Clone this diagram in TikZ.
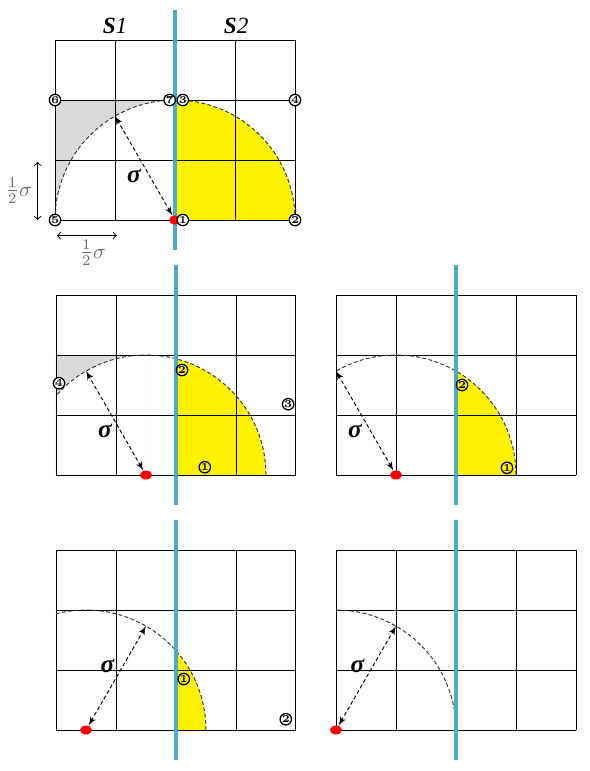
\documentclass[tikz,border=0pt]{standalone}
\usepackage{amsmath,amssymb}
\usepackage{fontspec}
\newfontfamily\serifbi{Liberation Serif}
\usetikzlibrary{arrows,calc,shapes.geometric}
\definecolor{divider}{RGB}{75,172,198}
\definecolor{greyzone}{RGB}{217,217,217}
\definecolor{dimgrey}{RGB}{105,105,105}

\begin{document}
\begin{tikzpicture}
	[cell/.style={line width=0.45pt},
	 divline/.style={divider,line width=1.5pt},
	 boundary/.style={black!80,line width=0.45pt,dash pattern=on 1.8pt off 1.2pt},
	 sigarrow/.style={<->,>=latex',line width=0.45pt,dash pattern=on 1.8pt off 1.2pt},
	 dimarrow/.style={<->,>=to,line width=0.45pt},
	 dimlabel/.style={dimgrey,inner sep=1pt,font=\fontsize{10}{10}\selectfont},
	 siglabel/.style={inner sep=1.2pt,font=\fontsize{12}{12}\selectfont\serifbi\bfseries\itshape},
	 side/.style={font=\fontsize{11}{11}\selectfont\serifbi\bfseries\itshape},
	 cnum/.style={circle,draw,line width=0.6pt,minimum size=0.19cm,inner sep=0pt,font=\fontsize{5}{5}\selectfont\bfseries},
	 centre/.style={ellipse,fill=red,minimum width=0.2cm,minimum height=0.15cm,inner sep=0pt}]
	\useasboundingbox (0,0) rectangle (9.817,-12.85);

	% grey corners outside the circle
	\begin{scope}[shift={(0.917,-3.667)}]
		\clip (0,0) rectangle (2,2);
		\fill[greyzone,even odd rule] (0,0) rectangle (2,2) (2,0) circle (2);
	\end{scope}
	\begin{scope}[shift={(0.933,-7.917)}]
		\clip (0,0) rectangle (1.5,2);
		\fill[greyzone,even odd rule] (0,0) rectangle (1.5,2) (1.5,0) circle (2);
	\end{scope}

	%
	% the five grids: centre shifted to the left step by step
	%
	\foreach \p/\ox/\oy/\c/\a/\lab in {1/0.917/-3.667/2/120/north east,
		2/0.933/-7.917/1.5/120/north east,
		3/5.6/-7.917/1/120/north east,
		4/0.933/-12.167/0.5/60/south east,
		5/5.6/-12.167/0/60/south east}
	{
	\begin{scope}[shift={(\ox,\oy)}]
		% part of the circle behind the divider
		\begin{scope}
			\clip (2,0) rectangle (4,3);
			\fill[yellow] (\c,0) circle (2);
		\end{scope}
		\draw[cell] (0,0) grid (4,3);
		\begin{scope}
			\clip (0,0) rectangle (4,3);
			\draw[boundary] (\c+2,0) arc (0:180:2);
		\end{scope}
		\draw[divline] (2,-0.5) -- (2,3.5);
		% centre and radius
		\node[centre] (dot\p) at (\c,0) {};
		\coordinate (tip\p) at ($(\c,0)+(\a:2)$);
		\draw[sigarrow] (dot\p) -- (tip\p)
			node[midway,anchor=\lab,siglabel] {σ};
	\end{scope}
	}

	%
	% top grid
	%
	\begin{scope}[shift={(0.917,-3.667)}]
		\node[side] (s1) at (1,3.23) {S\textmd{1}};
		\node[side] (s2) at (3.02,3.23) {S\textmd{2}};
		% numbered points
		\node[cnum,fill=white] (a1) at (2.13,0) {1};
		\node[cnum,fill=white] (a2) at (4,0) {2};
		\node[cnum,fill=white] (a3) at (2.13,2) {3};
		\node[cnum,fill=white] (a4) at (4,2) {4};
		\node[cnum,fill=white] (a5) at (0,0) {5};
		\node[cnum,fill=white] (a6) at (0,2) {6};
		\node[cnum,fill=white] (a7) at (1.91,2) {7};
		% half sigma
		\coordinate (v0) at (-0.29,0);
		\coordinate (v1) at (-0.29,0.97);
		\coordinate (h0) at (0.03,-0.26);
		\coordinate (h1) at (1.03,-0.26);
		\draw[dimarrow] (v0) -- (v1)
			node[midway,left=1.5pt,dimlabel] {$\frac{1}{2}\sigma$};
		\draw[dimarrow] (h0) -- (h1)
			node[midway,below=1pt,xshift=0.1cm,dimlabel] {$\frac{1}{2}\sigma$};
	\end{scope}

	% middle left
	\begin{scope}[shift={(0.933,-7.917)}]
		\node[cnum] (b1) at (2.48,0.13) {1};
		\node[cnum] (b2) at (2.1,1.75) {2};
		\node[cnum] (b3) at (3.87,1.18) {3};
		\node[cnum,fill=white] (b4) at (0.05,1.53) {4};
	\end{scope}
	% middle right
	\begin{scope}[shift={(5.6,-7.917)}]
		\node[cnum] (c1) at (2.85,0.12) {1};
		\node[cnum] (c2) at (2.1,1.5) {2};
	\end{scope}
	% bottom left
	\begin{scope}[shift={(0.933,-12.167)}]
		\node[cnum] (d1) at (2.13,0.85) {1};
		\node[cnum] (d2) at (3.83,0.18) {2};
	\end{scope}
\end{tikzpicture}
\end{document}
